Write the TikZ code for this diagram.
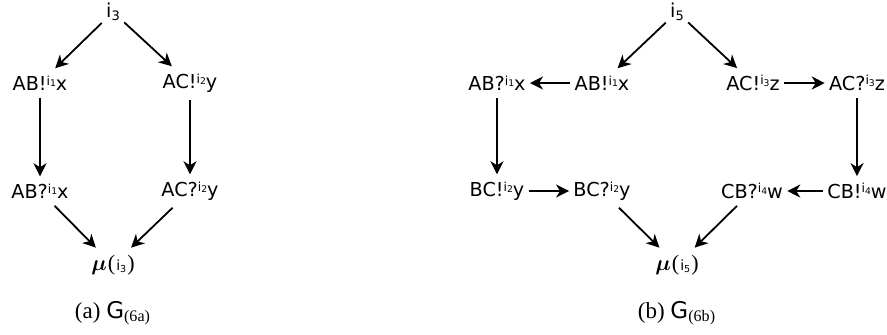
\documentclass[tikz,border=0pt]{standalone}
\usepackage{amsmath}
\usepackage{bm}
\usepackage{fontspec}
\setmainfont{Liberation Serif}
\newfontfamily\nodefont{DejaVu Sans}
\usetikzlibrary{arrows.meta}
\newcommand{\idx}[1]{\raisebox{0.5ex}{\fontsize{6.2}{6}\selectfont i\raisebox{-0.25ex}{\fontsize{4.6}{4}\selectfont #1}}}
\newcommand{\ii}[1]{i\raisebox{-0.3ex}{\fontsize{6.5}{6}\selectfont #1}}
\newcommand{\mui}[1]{$\bm{\mu}$\kern0.5pt(\kern0.5pt{\nodefont\fontsize{7}{7}\selectfont i\raisebox{-0.3ex}{\fontsize{4.8}{4}\selectfont #1}}\kern0.5pt)}
\begin{document}
\begin{tikzpicture}[x=0.5pt,y=-0.5pt,
  lbl/.style={font=\nodefont\fontsize{9.6}{12}\selectfont, inner xsep=2pt, inner ysep=3.5pt},
  mulbl/.style={font=\fontsize{11}{12}\selectfont, inner xsep=2pt, inner ysep=3.5pt},
  caplbl/.style={font=\fontsize{11.5}{13}\selectfont, inner sep=1pt},
  arr/.style={-{Stealth[length=6.5pt,width=6.5pt,inset=2pt]}, line width=0.9pt}]
\useasboundingbox (0,0) rectangle (887,334);
% left graph
\node[lbl] (i3) at (113,12) {\ii{3}};
\node[lbl] (ab1) at (40,83) {AB!\idx{1}x};
\node[lbl] (ac1) at (190,83) {AC!\idx{2}y};
\node[lbl] (ab2) at (40,191) {AB?\idx{1}x};
\node[lbl] (ac2) at (190,191) {AC?\idx{2}y};
\node[mulbl] (mu3) at (113,265) {\mui{3}};
\node[caplbl] (capa) at (113,313) {(a) {\nodefont G}\textsubscript{(6a)}};
\draw[arr] (i3) -- (ab1);
\draw[arr] (i3) -- (ac1);
\draw[arr] (ab1) -- (ab2);
\draw[arr] (ac1) -- (ac2);
\draw[arr] (ab2) -- (mu3);
\draw[arr] (ac2) -- (mu3);
% right graph
\node[lbl] (i5) at (677,12) {\ii{5}};
\node[lbl] (rab2) at (497,83) {AB?\idx{1}x};
\node[lbl] (rab1) at (602,83) {AB!\idx{1}x};
\node[lbl] (rac1) at (753,83) {AC!\idx{3}z};
\node[lbl] (rac2) at (857,83) {AC?\idx{3}z};
\node[lbl] (rbc1) at (497,191) {BC!\idx{2}y};
\node[lbl] (rbc2) at (602,191) {BC?\idx{2}y};
\node[lbl] (rcb2) at (752,191) {CB?\idx{4}w};
\node[lbl] (rcb1) at (857,191) {CB!\idx{4}w};
\node[mulbl] (mu5) at (677,265) {\mui{5}};
\node[caplbl] (capb) at (677,313) {(b) {\nodefont G}\textsubscript{(6b)}};
\draw[arr] (i5) -- (rab1);
\draw[arr] (i5) -- (rac1);
\draw[arr] (rab1) -- (rab2);
\draw[arr] (rac1) -- (rac2);
\draw[arr] (rab2) -- (rbc1);
\draw[arr] (rac2) -- (rcb1);
\draw[arr] (rbc1) -- (rbc2);
\draw[arr] (rcb1) -- (rcb2);
\draw[arr] (rbc2) -- (mu5);
\draw[arr] (rcb2) -- (mu5);
\end{tikzpicture}
\end{document}
